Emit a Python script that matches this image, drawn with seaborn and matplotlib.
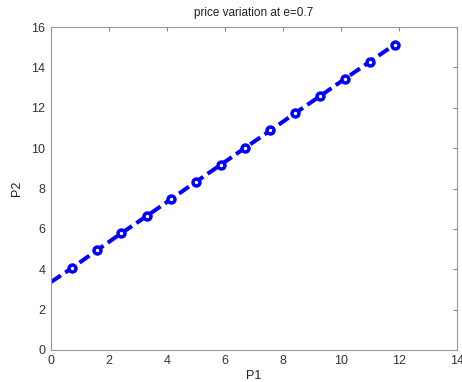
import numpy as np
import pandas as pd
import matplotlib
matplotlib.use("Agg")
import matplotlib.pyplot as plt
import seaborn as sns

# values (first point is the line start, no marker)
p1 = [0.0, 0.72, 1.58, 2.43, 3.30, 4.15, 5.0, 5.86, 6.71, 7.57, 8.42, 9.28, 10.13, 10.99, 11.85]
p2 = [3.36, 4.05, 4.93, 5.78, 6.63, 7.48, 8.33, 9.18, 10.03, 10.88, 11.73, 12.58, 13.43, 14.28, 15.13]
xticks = [0, 2, 4, 6, 8, 10, 12, 14]
yticks = [0, 2, 4, 6, 8, 10, 12, 14, 16]

sns.set_style("white")
plt.rcParams['font.family'] = ['Liberation Sans', 'DejaVu Sans']

df = pd.DataFrame({"P1": p1, "P2": p2})

fig = plt.figure(figsize=(4.62, 3.82), dpi=100)
ax = fig.add_axes([0.110, 0.084, 0.879, 0.845])

sns.lineplot(data=df, x="P1", y="P2", ax=ax, color="#0000ff", linewidth=2.9,
             linestyle=(0, (3.0, 1.3)), marker="o", markersize=5,
             markerfacecolor="white", markeredgecolor="#0000ff",
             markeredgewidth=2.5, markevery=list(range(1, len(p1))))

ax.set_xlim(0, 14)
ax.set_ylim(0, 16)
ax.set_xticks(xticks)
ax.set_yticks(yticks)
ax.tick_params(direction="in", length=3, colors="#888888", labelcolor="#333333",
               labelsize=9, top=True, right=True, pad=4)
for s in ax.spines.values():
    s.set_color("#999999")
    s.set_linewidth(0.8)

ax.set_title("price variation at e=0.7", fontsize=8.5, color="#222222", pad=8)
ax.set_xlabel("P1", fontsize=9, color="#222222", labelpad=2)
ax.set_ylabel("P2", fontsize=9, color="#222222", labelpad=6)

fig.savefig("out.png", dpi=100)
